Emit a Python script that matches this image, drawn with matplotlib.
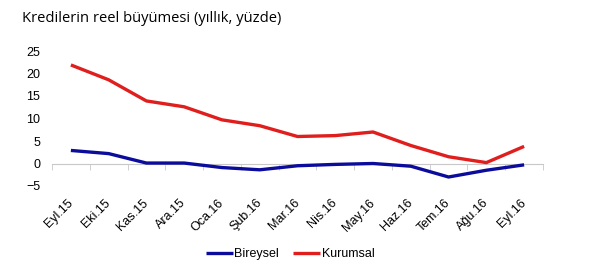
import numpy as np
import matplotlib as mpl
mpl.use('Agg')
import matplotlib.pyplot as plt
from matplotlib.ticker import FixedLocator

#Datos
aylar = ['Eyl.15','Eki.15','Kas.15','Ara.15','Oca.16','Şub.16','Mar.16',
         'Nis.16','May.16','Haz.16','Tem.16','Ağu.16','Eyl.16']
bireysel = [2.9, 2.2, 0.1, 0.1, -0.9, -1.4, -0.5, -0.2, 0.0, -0.6, -3.0, -1.5, -0.3]
kurumsal = [21.9, 18.6, 13.9, 12.6, 9.7, 8.4, 6.0, 6.2, 7.0, 4.0, 1.5, 0.2, 3.8]
yticks = [-5, 0, 5, 10, 15, 20, 25]

#Figura
plt.rcParams['font.family'] = 'Liberation Sans'
fig = plt.figure(figsize=(6, 2.72), dpi=100)
ax = fig.add_axes((52/600., 1-186/272., (543-52)/600., (186-51)/272.))

x = np.arange(len(aylar))
ax.plot(x, bireysel, '-', color='#0c0c9c', linewidth=2.4, label='Bireysel',
        solid_capstyle='butt')
ax.plot(x, kurumsal, '-', color='#e01e1e', linewidth=2.4, label='Kurumsal',
        solid_capstyle='butt')

ax.set_xlim(-0.5, len(aylar)-0.5)
ax.set_ylim(-5, 25)
ax.set_yticks(yticks)
ax.tick_params(axis='y', length=0, labelsize=9, pad=8.5)

for s in ['top', 'right', 'left']:
    ax.spines[s].set_visible(False)
ax.spines['bottom'].set_position(('data', 0))
ax.spines['bottom'].set_color('#c8c8c8')
ax.spines['bottom'].set_zorder(0)

ax.set_xticks(x)
ax.set_xticklabels(aylar, rotation=45, ha='right', va='center',
                   rotation_mode='anchor', fontsize=9)
ax.xaxis.set_minor_locator(FixedLocator(np.arange(len(aylar)+1)-0.5))
ax.tick_params(axis='x', which='major', length=0, pad=27)
ax.tick_params(axis='x', which='minor', length=4, color='#c8c8c8')

fig.text(22/600., 1-18/272., 'Kredilerin reel büyümesi (yıllık, yüzde)',
         fontsize=10.6, family='Open Sans', va='center', ha='left')

leg = fig.legend(loc='center', bbox_to_anchor=(290/600., 1-254/272.), ncol=2,
                 frameon=False, fontsize=9, handlelength=2.2, handletextpad=0.1,
                 columnspacing=1.1)

plt.savefig('out.png', dpi=100)
